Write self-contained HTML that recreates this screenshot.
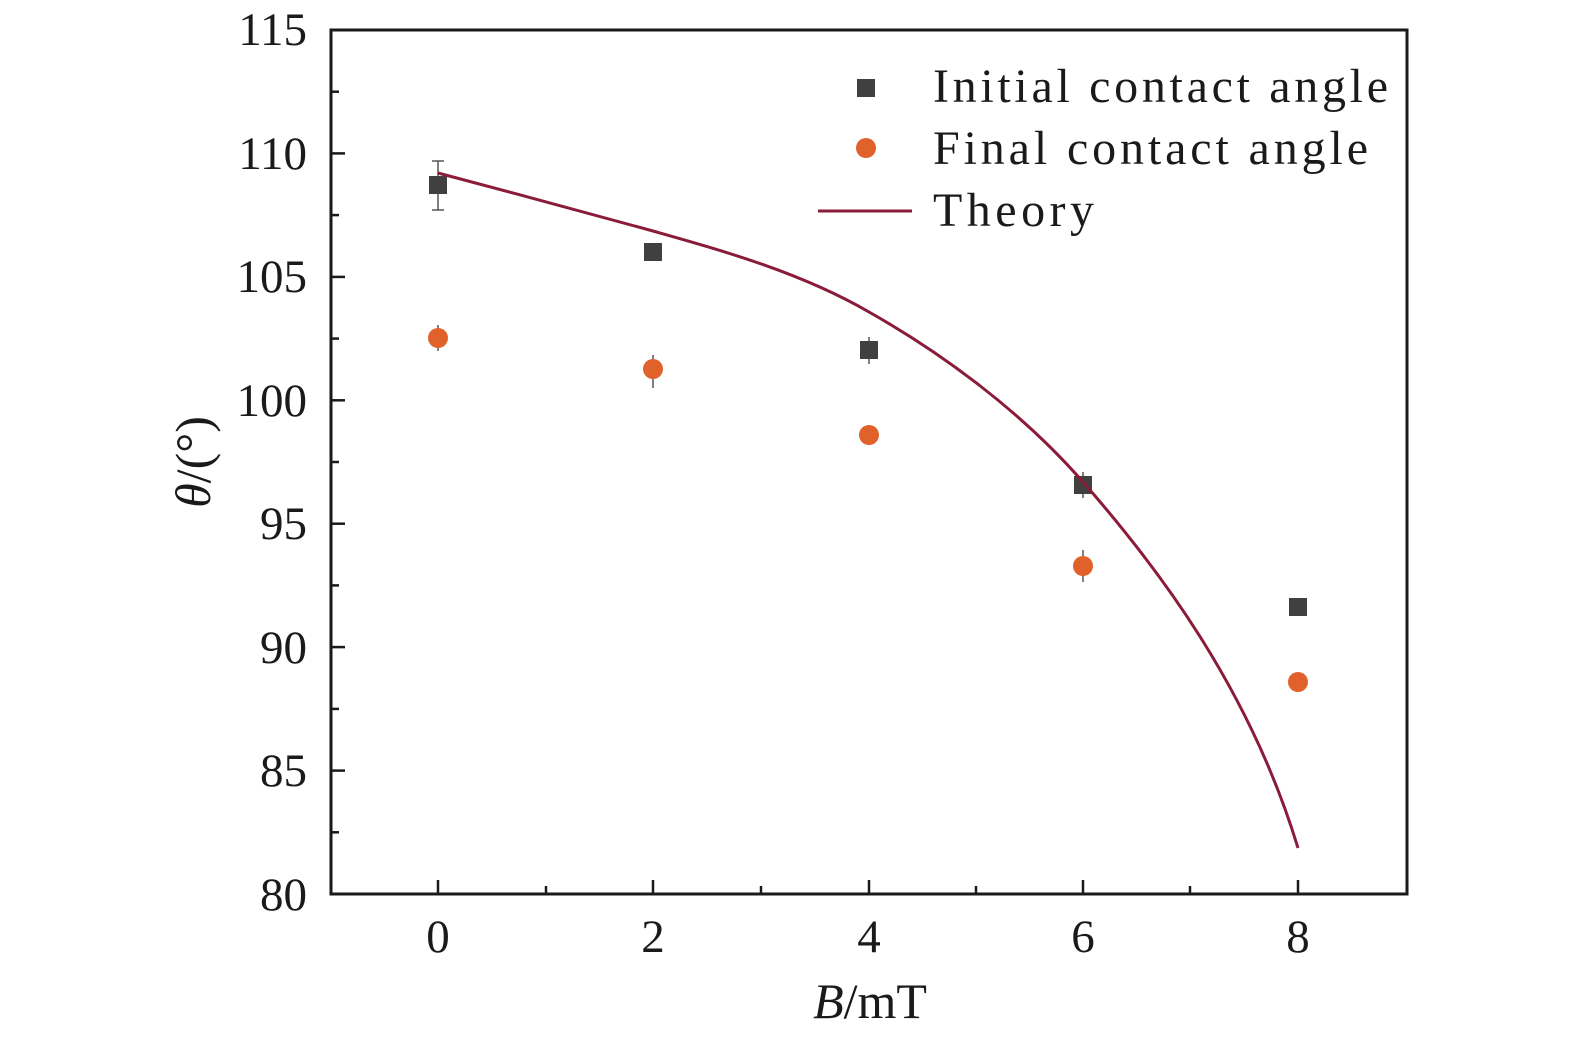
<!DOCTYPE html>
<html><head><style>
html,body{margin:0;padding:0;background:#fff;}
svg text{font-family:"Liberation Serif",serif;fill:#1a1a1a;}
</style></head><body>
<svg width="1575" height="1035" viewBox="0 0 1575 1035" xmlns="http://www.w3.org/2000/svg">
<rect width="1575" height="1035" fill="#fff"/>
<rect x="331" y="30" width="1076" height="864" fill="none" stroke="#1a1a1a" stroke-width="3"/>
<g stroke="#1a1a1a" stroke-width="2.5">
<line x1="331" y1="153.4" x2="345" y2="153.4"/><line x1="331" y1="276.9" x2="345" y2="276.9"/>
<line x1="331" y1="400.3" x2="345" y2="400.3"/><line x1="331" y1="523.7" x2="345" y2="523.7"/>
<line x1="331" y1="647.1" x2="345" y2="647.1"/><line x1="331" y1="770.6" x2="345" y2="770.6"/>
<line x1="331" y1="91.7" x2="339" y2="91.7"/><line x1="331" y1="215.1" x2="339" y2="215.1"/>
<line x1="331" y1="338.6" x2="339" y2="338.6"/><line x1="331" y1="462" x2="339" y2="462"/>
<line x1="331" y1="585.4" x2="339" y2="585.4"/><line x1="331" y1="708.9" x2="339" y2="708.9"/>
<line x1="331" y1="832.3" x2="339" y2="832.3"/>
<line x1="438" y1="894" x2="438" y2="880"/><line x1="653" y1="894" x2="653" y2="880"/>
<line x1="869" y1="894" x2="869" y2="880"/><line x1="1083" y1="894" x2="1083" y2="880"/>
<line x1="1298" y1="894" x2="1298" y2="880"/>
<line x1="546" y1="894" x2="546" y2="886"/><line x1="761" y1="894" x2="761" y2="886"/>
<line x1="976" y1="894" x2="976" y2="886"/><line x1="1190" y1="894" x2="1190" y2="886"/>
</g>
<g font-size="47" text-anchor="end">
<text x="307" y="45">115</text><text x="307" y="169">110</text><text x="307" y="292">105</text>
<text x="307" y="416">100</text><text x="307" y="539">95</text><text x="307" y="663">90</text>
<text x="307" y="786">85</text><text x="307" y="910">80</text>
</g>
<g font-size="47" text-anchor="middle">
<text x="438" y="952">0</text><text x="653" y="952">2</text><text x="869" y="952">4</text>
<text x="1083" y="952">6</text><text x="1298" y="952">8</text>
<text x="870" y="1018" font-size="50"><tspan font-style="italic">B</tspan>/mT</text>
</g>
<text transform="translate(210,462) rotate(-90)" font-size="50" text-anchor="middle"><tspan font-style="italic">θ</tspan>/(°)</text>
<g stroke="#555" stroke-width="1.5">
<line x1="438" y1="161" x2="438" y2="210"/><line x1="432" y1="161" x2="444" y2="161"/><line x1="432" y1="210" x2="444" y2="210"/>
<line x1="438" y1="325" x2="438" y2="351"/><line x1="653" y1="355" x2="653" y2="388"/><line x1="869" y1="337" x2="869" y2="364"/>
<line x1="1083" y1="472" x2="1083" y2="498"/><line x1="1083" y1="550" x2="1083" y2="582"/>
</g>
<g fill="#404040">
<rect x="429" y="176" width="18" height="18"/><rect x="644" y="243" width="18" height="18"/>
<rect x="860" y="341" width="18" height="18"/><rect x="1074" y="476" width="18" height="18"/>
<rect x="1289" y="598" width="18" height="18"/><rect x="857" y="79" width="18" height="18"/>
</g>
<g fill="#e0622a">
<circle cx="438" cy="338" r="10"/><circle cx="653" cy="369" r="10"/><circle cx="869" cy="435" r="10"/>
<circle cx="1083" cy="566" r="10"/><circle cx="1298" cy="682" r="10"/><circle cx="866" cy="148" r="10"/>
</g>
<path d="M438,173 C510,192 580,211 653,231 C720,250 800,272 869,312 C940,352 1020,410 1083,482 C1160,570 1250,690 1298,848" fill="none" stroke="#8a1c3a" stroke-width="3"/>
<line x1="818" y1="211" x2="912" y2="211" stroke="#8a1c3a" stroke-width="3"/>
<g font-size="48">
<text x="933" y="102" textLength="455" lengthAdjust="spacing">Initial contact angle</text>
<text x="933" y="164" textLength="435" lengthAdjust="spacing">Final contact angle</text>
<text x="933" y="226" textLength="161" lengthAdjust="spacing">Theory</text>
</g>
</svg>
</body></html>
